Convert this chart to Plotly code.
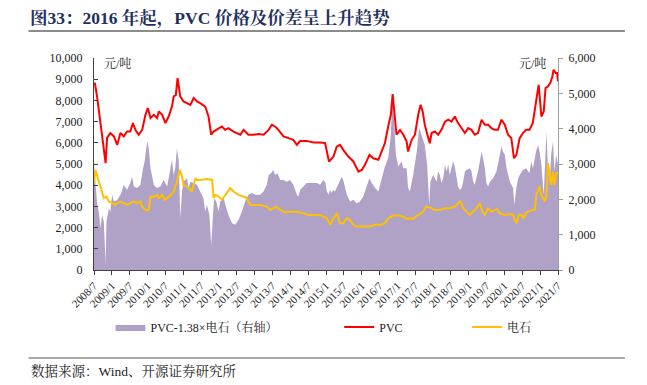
import pandas as pd
import plotly.graph_objects as go

# ---- data (time = months elapsed since 2008-07-01) ----
pvc_t = [0.0, 0.3, 1.1, 2.2, 3.1, 3.9, 4.4, 5.5, 6.7, 7.8, 8.9, 10.0, 11.1, 12.2, 13.1, 13.9, 15.0, 16.2,
         17.3, 18.1, 19.0, 20.1, 21.2, 21.8, 22.9, 24.0, 25.1, 26.2, 26.8, 27.5, 28.1, 29.0, 30.1, 31.2,
         32.4, 33.5, 34.6, 35.7, 37.4, 38.5, 39.4, 40.2, 41.3, 43.0, 44.1, 45.2, 46.9, 49.2, 50.3, 51.9,
         53.6, 55.3, 57.0, 58.7, 59.8, 60.9, 62.0, 63.7, 65.4, 67.0, 68.2, 69.3, 71.5, 73.8, 76.0, 77.7,
         79.0, 80.5, 81.6, 82.7, 83.8, 85.5, 87.2, 88.9, 90.0, 91.1, 92.6, 93.9, 95.6, 96.7, 97.8, 98.9,
         99.8, 100.4, 100.9, 101.7, 102.9, 104.0, 105.1, 105.6, 106.8, 107.9, 109.0, 109.8, 110.5, 111.2,
         112.4, 112.9, 113.5, 114.6, 115.7, 116.8, 118.0, 119.1, 120.2, 121.3, 122.4, 123.5, 124.7, 125.8,
         126.9, 128.0, 129.1, 130.3, 131.4, 132.5, 133.6, 134.7, 135.8, 137.0, 138.1, 139.2, 140.3, 141.2,
         142.0, 143.1, 144.2, 145.3, 146.4, 147.5, 148.6, 149.5, 150.4, 151.2, 151.8, 152.6, 153.4, 154.1,
         154.5, 155.2, 155.7, 156.0]
pvc_v = [8740, 8820, 8110, 7000, 6060, 5040, 6230, 6460, 6300, 5900, 6470, 6300, 6530, 6530, 6930, 6610, 6380, 6610,
         7320, 7640, 7170, 7320, 7170, 7480, 7320, 6930, 7240, 7710, 8190, 8250, 9050, 8190, 7950, 7870,
         7790, 8110, 7950, 7870, 7710, 7240, 6380, 6530, 6610, 6770, 6610, 6690, 6530, 6380, 6610, 6380,
         6380, 6420, 6380, 6610, 6850, 6770, 6610, 6300, 6220, 6140, 5900, 6090, 6090, 6020, 6020, 5980,
         5120, 5350, 5820, 5900, 5670, 5350, 5120, 4640, 4720, 4960, 5430, 5270, 5200, 5590, 5980, 6770,
         7320, 8300, 7640, 6380, 6610, 6380, 6060, 5590, 6140, 6380, 7320, 7790, 7480, 6850,
         6220, 5980, 6460, 6530, 6380, 6610, 7000, 7090, 7000, 7240, 6930, 6690, 6460, 6690,
         6610, 6380, 6460, 7090, 6850, 6850, 6690, 6610, 6610, 7090, 6850, 6380, 6220, 5270,
         5430, 6220, 6460, 6610, 6610, 6930, 7870, 8740, 7240, 7480, 8580, 8650, 8820, 9130,
         9450, 9290, 9290, 8900]

carbide_t = [0.0, 0.5, 1.3, 2.2, 3.3, 4.2, 5.0, 6.1, 7.2, 7.8, 8.9, 10.0, 11.1, 12.2, 13.4, 14.5, 15.6, 16.2,
             17.3, 18.4, 19.0, 20.1, 21.2, 21.8, 22.9, 23.7, 24.6, 25.7, 26.8, 27.9, 28.8, 29.6, 30.1, 31.3,
             32.4, 32.9, 34.1, 34.6, 35.7, 37.4, 38.0, 39.7, 40.2, 40.8, 41.9, 43.0, 44.1, 45.8, 46.9, 48.6,
             50.3, 51.4, 52.5, 53.6, 55.9, 58.1, 59.2, 60.3, 61.2, 62.6, 64.3, 65.9, 68.2, 70.4, 72.1, 74.3,
             76.0, 78.3, 79.4, 80.5, 81.6, 82.7, 83.8, 85.0, 86.1, 87.2, 88.3, 90.5, 92.8, 94.5, 96.7, 97.8,
             98.9, 100.6, 102.9, 104.0, 105.1, 106.2, 107.3, 108.5, 109.6, 110.7, 111.6, 112.9, 114.6, 116.3,
             118.0, 119.6, 121.3, 122.4, 123.2, 124.1, 125.2, 126.3, 127.5, 128.6, 129.7, 130.6, 131.4, 132.5,
             133.6, 134.7, 135.5, 136.4, 138.1, 139.8, 140.9, 141.7, 142.2, 142.8, 143.7, 144.5, 145.1, 146.4,
             148.2, 148.7, 149.8, 150.4, 151.6, 152.1, 152.6, 153.2, 153.7, 154.3, 154.8, 155.4, 156.0]
carbide_v = [4100, 4720, 4330, 3860, 3390, 3460, 3230, 3150, 3070, 3150, 3230, 3150, 3070, 3150, 3230, 3150, 3230, 2990,
             2830, 2830, 3460, 3460, 3540, 3390, 3540, 3310, 3390, 3540, 3700, 4170, 4720, 4410, 4010, 3940,
             3780, 3700, 4330, 4250, 4250, 4290, 4290, 4250, 3390, 3540, 3460, 3310, 3540, 3860, 3700, 3540,
             3460, 3390, 3070, 3070, 3070, 2990, 2830, 2910, 2990, 2830, 2720, 2750, 2750, 2680, 2600, 2600,
             2600, 2440, 2130, 2440, 2680, 2210, 2210, 2440, 2360, 2130, 2050, 2050, 2050, 2130, 2130, 2210,
             2440, 2570, 2570, 2520, 2410, 2440, 2410, 2570, 2630, 2760, 2990, 2950, 2830, 2830,
             2910, 2910, 2990, 3150, 3230, 2910, 2760, 2600, 2760, 2910, 3150, 2760, 2600, 2910,
             2760, 2830, 2870, 2680, 2600, 2640, 2600, 2290, 2210, 2600, 2600, 2440, 2680, 2790,
             2830, 3540, 3940, 3540, 3230, 3540, 5040, 4490, 4010, 4640, 4010, 4570, 4570]

spread_t = [0.0, 0.5, 1.1, 1.6, 2.2, 2.7, 3.3, 3.9, 4.2, 5.0, 5.5, 6.1, 6.7, 7.8, 8.9, 9.5, 10.0, 11.1,
            12.2, 12.8, 13.4, 14.5, 15.6, 16.5, 17.0, 17.9, 18.4, 19.0, 19.5, 20.1, 20.6, 21.2, 22.3, 23.4,
            24.6, 25.7, 26.2, 26.8, 27.3, 27.9, 28.5, 29.0, 29.6, 30.1, 31.3, 31.8, 32.4, 33.5, 34.6, 35.7,
            36.8, 37.4, 38.0, 38.8, 39.4, 40.0, 40.4, 41.1, 41.9, 42.4, 43.6, 44.5, 45.2, 46.4, 47.5, 48.6,
            49.7, 50.8, 51.9, 53.1, 54.2, 55.9, 57.0, 58.1, 58.7, 59.5, 60.3, 60.9, 61.7, 62.6, 63.7, 64.8,
            65.9, 67.0, 68.2, 68.7, 69.3, 70.4, 71.5, 73.8, 74.9, 76.0, 77.1, 77.7, 78.3, 78.8, 79.4, 79.9,
            80.5, 81.0, 82.2, 83.3, 83.8, 84.4, 85.0, 86.1, 87.2, 88.3, 89.4, 90.5, 91.7, 92.6, 93.4, 94.5,
            95.6, 96.7, 97.8, 98.9, 99.7, 100.4, 100.9, 101.5, 102.3, 103.4, 104.0, 105.1, 105.6, 106.2,
            107.3, 108.5, 109.3, 110.1, 111.2, 112.0, 112.7, 113.1, 114.0, 115.2, 115.7, 116.3, 116.8, 117.4,
            118.0, 118.5, 119.1, 119.6, 120.7, 121.3, 121.9, 122.4, 123.0, 123.6, 124.1, 124.7, 125.2, 126.3,
            126.9, 127.5, 128.0, 128.6, 129.1, 129.7, 130.3, 130.8, 131.4, 131.9, 132.5, 133.1, 134.2, 135.3,
            136.4, 137.0, 137.5, 138.1, 138.7, 139.8, 140.9, 141.3, 142.0, 142.6, 143.1, 144.2, 145.3, 146.4,
            147.0, 147.6, 148.6, 149.3, 149.8, 150.4, 151.2, 151.6, 152.1, 152.6, 153.2, 153.7, 154.3, 154.8,
            155.4, 156.0]
spread_v = [2980, 2410, 1840, 1650, 1180, 1560, 1370, 200, 1370, 1750, 1650, 2130, 1940, 1980, 2130, 2270, 2410, 2270,
            2460, 2640, 2360, 2320, 2410, 2880, 3070, 3640, 3450, 2880, 2640, 2410, 2360, 2320, 2360, 2550,
            2360, 2980, 3120, 2690, 2880, 3450, 3070, 1470, 2220, 2500, 2600, 2320, 2500, 2460, 2410, 2220,
            2030, 1650, 1840, 1560, 710, 1560, 2030, 1940, 1650, 1940, 2030, 1750, 1560, 1320, 1280, 1420,
            1650, 1940, 2130, 2180, 2130, 2130, 2220, 2410, 2690, 2740, 2830, 2690, 2740, 2550, 2550, 2500,
            2550, 2410, 2130, 2080, 2270, 2360, 2460, 2460, 2460, 2410, 2550, 2500, 2220, 2130, 2270, 2180,
            2270, 2220, 2460, 2640, 2550, 2360, 2130, 1940, 1990, 1890, 1940, 2080, 2360, 2600, 2460, 2320,
            2220, 2600, 2930, 3170, 3730, 4960, 4300, 3260, 2930, 3070, 2880, 2880, 2320, 2220,
            2690, 3350, 4020, 3830, 3540, 2980, 1840, 2500, 2690, 2500, 2790, 2690, 2460, 2600,
            2980, 2790, 2980, 2690, 3070, 2930, 2600, 2360, 2270, 2320, 2500, 2790, 2830, 2880,
            2790, 2500, 2410, 2600, 2790, 3070, 3350, 3170, 2880, 2460, 2360, 2500, 2600, 2790,
            3260, 3500, 3350, 3260, 2880, 2500, 2320, 1840, 2320, 2600, 2690, 2830, 2880, 2740,
            3070, 2880, 3350, 3540, 3350, 2980, 2130, 2790, 3920, 2880, 2500, 3260, 3640, 2790,
            3260, 2980]

tick_dates = ["%d-%02d-01" % (y, m) for y in range(2008, 2022) for m in (1, 7)][1:]
tick_labels = ["%d/%d" % (int(d[:4]), int(d[5:7])) for d in tick_dates]

base = pd.Timestamp("2008-07-01")
def to_dates(ts):
    return [base + pd.Timedelta(days=t * 30.4375) for t in ts]

SERIF = "Liberation Serif, Times New Roman, Noto Serif CJK SC, Noto Sans CJK SC, serif"

fig = go.Figure()
fig.add_trace(go.Scatter(x=to_dates(spread_t), y=spread_v, name="PVC-1.38×电石（右轴）",
                         mode="lines", line=dict(width=0, color="rgb(176,162,198)"),
                         fill="tozeroy", fillcolor="rgb(176,162,198)", yaxis="y", legend="legend"))
fig.add_trace(go.Scatter(x=to_dates(pvc_t), y=pvc_v, name="PVC", mode="lines",
                         line=dict(color="#FF0000", width=2), yaxis="y2", legend="legend2"))
fig.add_trace(go.Scatter(x=to_dates(carbide_t), y=carbide_v, name="电石", mode="lines",
                         line=dict(color="#FFC000", width=2), yaxis="y2", legend="legend3"))

L, R, T, B = 93.5, 89, 58, 115
pw = 647 - L - R
ph = 385 - T - B
def px(x):
    return (x - L) / pw
def py(y):
    return (385 - B - y) / ph

axis_font = dict(family=SERIF, size=12, color="#222")
xaxis_font = dict(family=SERIF, size=11, color="#222")
leg_font = dict(family=SERIF, size=12, color="#222")
fig.update_layout(
    width=647, height=385,
    margin=dict(l=L, r=R, t=T, b=B, autoexpand=False),
    paper_bgcolor="white", plot_bgcolor="white",
    xaxis=dict(type="date", range=["2008-07-01", "2021-07-01"], tickvals=tick_dates, ticktext=tick_labels,
               tickangle=-45, ticks="outside", ticklen=4, tickcolor="#404040", showline=True,
               linecolor="#404040", linewidth=1, showgrid=False, zeroline=False, tickfont=xaxis_font),
    yaxis=dict(side="right", range=[0, 6000], dtick=1000, tickformat=",d", showgrid=False, zeroline=False,
               showline=True, linecolor="#A0A0A0", ticks="outside", ticklen=4, tickcolor="#A0A0A0",
               tickfont=axis_font, ticklabelstandoff=3),
    yaxis2=dict(side="left", overlaying="y", range=[0, 10000], dtick=1000, tickformat=",d", showgrid=False,
                zeroline=False, showline=True, linecolor="#404040", ticks="inside", ticklen=4,
                tickcolor="#404040", tickfont=axis_font, ticklabelstandoff=8),
    showlegend=True,
    legend=dict(x=px(110), y=py(327), xanchor="left", yanchor="middle", orientation="h",
                font=leg_font, bgcolor="rgba(0,0,0,0)", itemwidth=30),
    legend2=dict(x=px(339), y=py(327), xanchor="left", yanchor="middle", orientation="h",
                 font=leg_font, bgcolor="rgba(0,0,0,0)", itemwidth=30),
    legend3=dict(x=px(467), y=py(327), xanchor="left", yanchor="middle", orientation="h",
                 font=leg_font, bgcolor="rgba(0,0,0,0)", itemwidth=30),
)

fig.add_annotation(text="<b>图33：2016 年起，PVC 价格及价差呈上升趋势</b>", xref="paper", yref="paper",
                   x=px(27), y=py(18), xanchor="left", yanchor="middle", showarrow=False,
                   font=dict(family=SERIF, size=17.5, color="#1F3060"))
fig.add_annotation(text="数据来源：Wind、开源证券研究所", xref="paper", yref="paper",
                   x=px(28), y=py(371), xanchor="left", yanchor="middle", showarrow=False,
                   font=dict(family=SERIF, size=13.5, color="#222"))
fig.add_annotation(text="元/吨", xref="paper", yref="paper", x=px(102), y=py(63), xanchor="left",
                   yanchor="middle", showarrow=False, font=dict(family=SERIF, size=12, color="#222"))
fig.add_annotation(text="元/吨", xref="paper", yref="paper", x=px(548), y=py(63), xanchor="right",
                   yanchor="middle", showarrow=False, font=dict(family=SERIF, size=12, color="#222"))
fig.add_shape(type="line", xref="paper", yref="paper", x0=px(28), x1=px(625), y0=py(31), y1=py(31),
              line=dict(color="#8C8C8C", width=2))
fig.add_shape(type="line", xref="paper", yref="paper", x0=px(28), x1=px(625), y0=py(358), y1=py(358),
              line=dict(color="#8C8C8C", width=1.5))

fig.write_html("out.html", config={"displayModeBar": False},
               post_script="document.body.style.margin='0';document.body.style.overflow='hidden';")
